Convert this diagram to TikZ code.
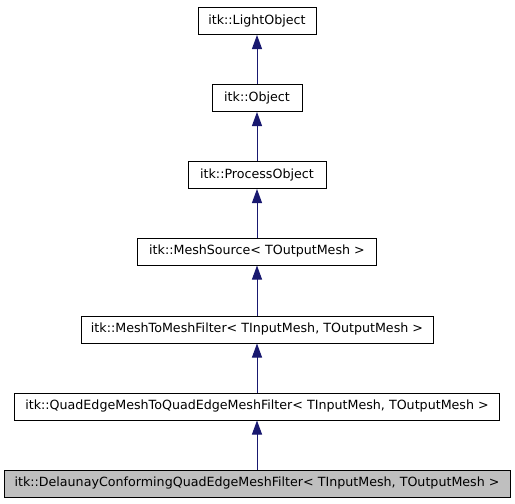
\documentclass[tikz,border=0pt]{standalone}
\usepackage{fontspec}
\setmainfont{DejaVu Sans}
\usetikzlibrary{positioning,arrows.meta}
\definecolor{edgeblue}{HTML}{191970}
\definecolor{boxgray}{HTML}{BFBFBF}

\begin{document}
\begin{tikzpicture}[x=0.75pt,y=-0.75pt,
    cls/.style={draw=black,line width=0.75pt,fill=white,inner sep=0pt,
      minimum height=20.25pt,font=\fontsize{9.5pt}{11.5pt}\selectfont},
    cur/.style={cls,fill=boxgray},
    inh/.style={draw=edgeblue,line width=0.75pt,
      -{Triangle[length=10.5pt,width=7.5pt,fill=edgeblue]}}]
  \useasboundingbox (0,0) rectangle (515,504);
  \node[cls,minimum width=88.5pt] (LO) at (257,21) {itk::LightObject};
  \node[cls,minimum width=67.5pt] (OB) at (257,98) {itk::Object};
  \node[cls,minimum width=103.5pt] (PO) at (257,175) {itk::ProcessObject};
  \node[cls,minimum width=179.25pt] (MS) at (257,251.5) {itk::MeshSource< TOutputMesh >};
  \node[cls,minimum width=264pt] (MM) at (257,329.5) {itk::MeshToMeshFilter< TInputMesh, TOutputMesh >};
  \node[cls,minimum width=363.75pt] (QE) at (257,406.5) {itk::QuadEdgeMeshToQuadEdgeMeshFilter< TInputMesh, TOutputMesh >};
  \node[cur,minimum width=379.5pt] (DC) at (257,483.5) {itk::DelaunayConformingQuadEdgeMeshFilter< TInputMesh, TOutputMesh >};
  \draw[inh] (OB) -- (LO);
  \draw[inh] (PO) -- (OB);
  \draw[inh] (MS) -- (PO);
  \draw[inh] (MM) -- (MS);
  \draw[inh] (QE) -- (MM);
  \draw[inh] (DC) -- (QE);
\end{tikzpicture}
\end{document}
